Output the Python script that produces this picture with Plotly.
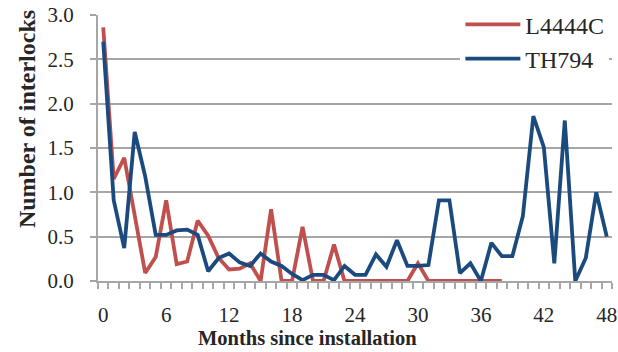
import plotly.graph_objects as go

months = list(range(49))
l4444c = [2.86, 1.15, 1.39, 0.75, 0.09, 0.27, 0.91, 0.19, 0.22, 0.68,
          0.51, 0.26, 0.13, 0.14, 0.20, 0.00, 0.81, 0.00, 0.00, 0.61,
          0.00, 0.00, 0.41, 0.00, 0.00, 0.00, 0.00, 0.00, 0.00, 0.00,
          0.20, 0.00, 0.00, 0.00, 0.00, 0.00, 0.00, 0.00, 0.00]
th794 = [2.70, 0.91, 0.37, 1.68, 1.18, 0.52, 0.52, 0.57, 0.58, 0.52,
         0.11, 0.26, 0.31, 0.21, 0.17, 0.31, 0.22, 0.17, 0.08, 0.01,
         0.07, 0.07, 0.01, 0.17, 0.07, 0.07, 0.30, 0.16, 0.46, 0.17,
         0.17, 0.18, 0.91, 0.91, 0.09, 0.20, 0.00, 0.43, 0.28, 0.28,
         0.73, 1.86, 1.51, 0.20, 1.81, 0.00, 0.26, 1.00, 0.50]
x_ticks = [0, 6, 12, 18, 24, 30, 36, 42, 48]
y_ticks = [0.0, 0.5, 1.0, 1.5, 2.0, 2.5, 3.0]

RED = "#C0504D"
BLUE = "#1B4A7E"
GRID = "#A6A6A6"
FONT = "Liberation Serif"
TXT = "#262626"

fig = go.Figure()
fig.add_trace(go.Scatter(x=months[:len(l4444c)], y=l4444c, mode="lines",
                         name="L4444C", line=dict(color=RED, width=3.8)))
fig.add_trace(go.Scatter(x=months, y=th794, mode="lines",
                         name="TH794", line=dict(color=BLUE, width=3.8)))

fig.update_layout(
    width=618, height=352,
    margin=dict(l=98, r=6, t=15, b=71, autoexpand=False),
    paper_bgcolor="white", plot_bgcolor="white",
    font=dict(family=FONT, color=TXT, size=21),
    legend=dict(x=0.705, y=1.048, xanchor="left", yanchor="top",
                bgcolor="white", font=dict(family=FONT, size=24, color=TXT),
                itemwidth=55, tracegroupgap=0),
    xaxis=dict(range=[-0.5, 48.5], tickmode="array", tickvals=x_ticks,
               ticktext=[str(v) for v in x_ticks],
               ticks="outside", ticklen=14, tickcolor="rgba(0,0,0,0)",
               showgrid=False, showline=True, linecolor=GRID, linewidth=2,
               zeroline=False, automargin=False,
               tickfont=dict(family=FONT, size=21, color=TXT),
               minor=dict(tick0=-0.5, dtick=1, ticks="outside", ticklen=6,
                          tickcolor=GRID, tickwidth=1.5, showgrid=False)),
    yaxis=dict(range=[0, 3], tickmode="array", tickvals=y_ticks,
               ticktext=["%.1f" % v for v in y_ticks],
               ticks="outside", ticklen=6, tickcolor=GRID, tickwidth=2,
               ticklabelstandoff=12, automargin=False,
               showgrid=True, gridcolor=GRID, gridwidth=2,
               showline=True, linecolor=GRID, linewidth=2, zeroline=False,
               tickfont=dict(family=FONT, size=21, color=TXT)),
    annotations=[
        dict(text="Number of interlocks", xref="paper", yref="paper",
             x=-0.138, y=0.609, textangle=-90, showarrow=False,
             xanchor="center", yanchor="middle",
             font=dict(family=FONT, size=24, color=TXT, weight="bold")),
        dict(text="Months since installation", xref="paper", yref="paper",
             x=0.4076, y=-0.214, showarrow=False,
             xanchor="center", yanchor="middle",
             font=dict(family=FONT, size=20.5, color=TXT, weight="bold")),
    ],
)

fig.write_html("out.html",
               config={"displayModeBar": False},
               post_script="document.body.style.margin='0';"
                           "document.body.style.overflow='hidden';")
